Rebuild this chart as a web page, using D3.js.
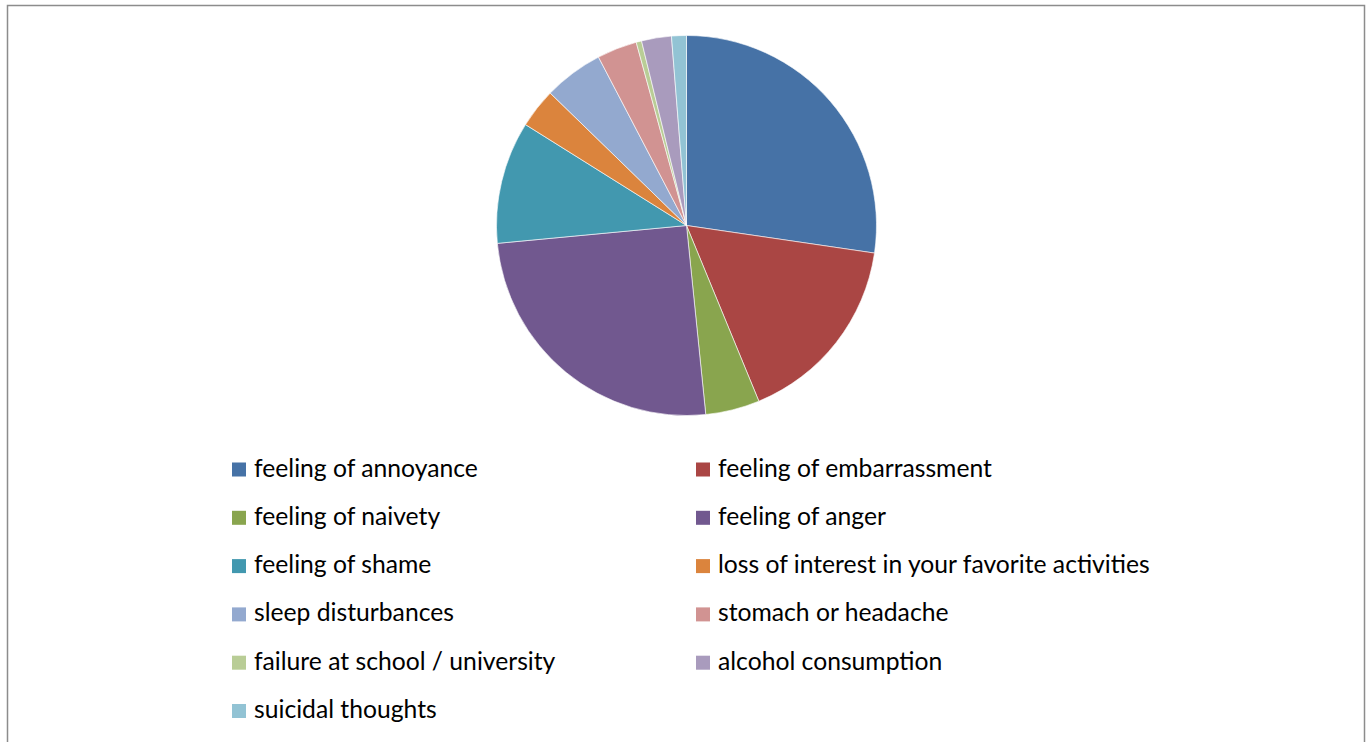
<!DOCTYPE html>
<html>
<head>
<meta charset="utf-8">
<script src="https://cdn.jsdelivr.net/npm/d3@7"></script>
<style>
  body { margin: 0; background: #fff; }
  .legendText { font-family: Lato, "Noto Sans", sans-serif; fill: #000; }
</style>
</head>
<body>
<div class="chart"></div>
<script>
// slice categories and shares (percent)
let categories = [
  "feeling of annoyance", "feeling of embarrassment", "feeling of naivety",
  "feeling of anger", "feeling of shame", "loss of interest in your favorite activities",
  "sleep disturbances", "stomach or headache", "failure at school / university",
  "alcohol consumption", "suicidal thoughts"
];
let values = [27.3, 16.45, 4.6, 25.1, 10.4, 3.36, 5.06, 3.4, 0.46, 2.54, 1.26];
let colors = ["#4672A6", "#AA4644", "#89A54E", "#71588F", "#4298AF", "#DB843D",
  "#93A9CF", "#D19392", "#B9CD96", "#A99BBD", "#92C3D4"];

let svgWidth = 1370;
let svgHeight = 742;

let svg = d3.select(".chart")
  .append("svg")
  .attr("width", svgWidth)
  .attr("height", svgHeight);

// chart frame
svg.append("rect")
  .attr("x", 7.5)
  .attr("y", 5.5)
  .attr("width", 1357)
  .attr("height", 760)
  .attr("fill", "none")
  .attr("stroke", "#8c8c8c")
  .attr("stroke-width", 1.5);

// pie
let radius = 190;
let pieGroup = svg.append("g")
  .attr("transform", "translate(686.5, 225.5)");

let pie = d3.pie().sort(null).value(d => d.value);
let arc = d3.arc().innerRadius(0).outerRadius(radius);

let slices = categories.map((c, i) => ({ name: c, value: values[i], color: colors[i] }));

pieGroup.selectAll("path")
  .data(pie(slices))
  .enter()
  .append("path")
  .attr("d", arc)
  .attr("fill", d => d.data.color)
  .attr("stroke", "#fff")
  .attr("stroke-width", 0.6);

// legend, two columns
let colX = [232, 696];
let rowY = d3.scaleLinear().domain([0, 5]).range([469.5, 711]);

let legend = svg.append("g");
let items = legend.selectAll("g")
  .data(slices)
  .enter()
  .append("g")
  .attr("transform", (d, i) => `translate(${colX[i % 2]}, ${rowY(Math.floor(i / 2))})`);

items.append("rect")
  .attr("x", 0)
  .attr("y", -7)
  .attr("width", 14)
  .attr("height", 14)
  .attr("fill", d => d.color);

let labels = items.append("text")
  .attr("class", "legendText")
  .attr("x", 22)
  .attr("y", 7)
  .style("font-size", "20px")
  .text(d => d.name);

// fit font size so the first label spans about as wide as in the picture
let w = labels.nodes()[0].getComputedTextLength();
let fs = 20 * 224 / w;
labels.style("font-size", fs + "px");
</script>
</body>
</html>
